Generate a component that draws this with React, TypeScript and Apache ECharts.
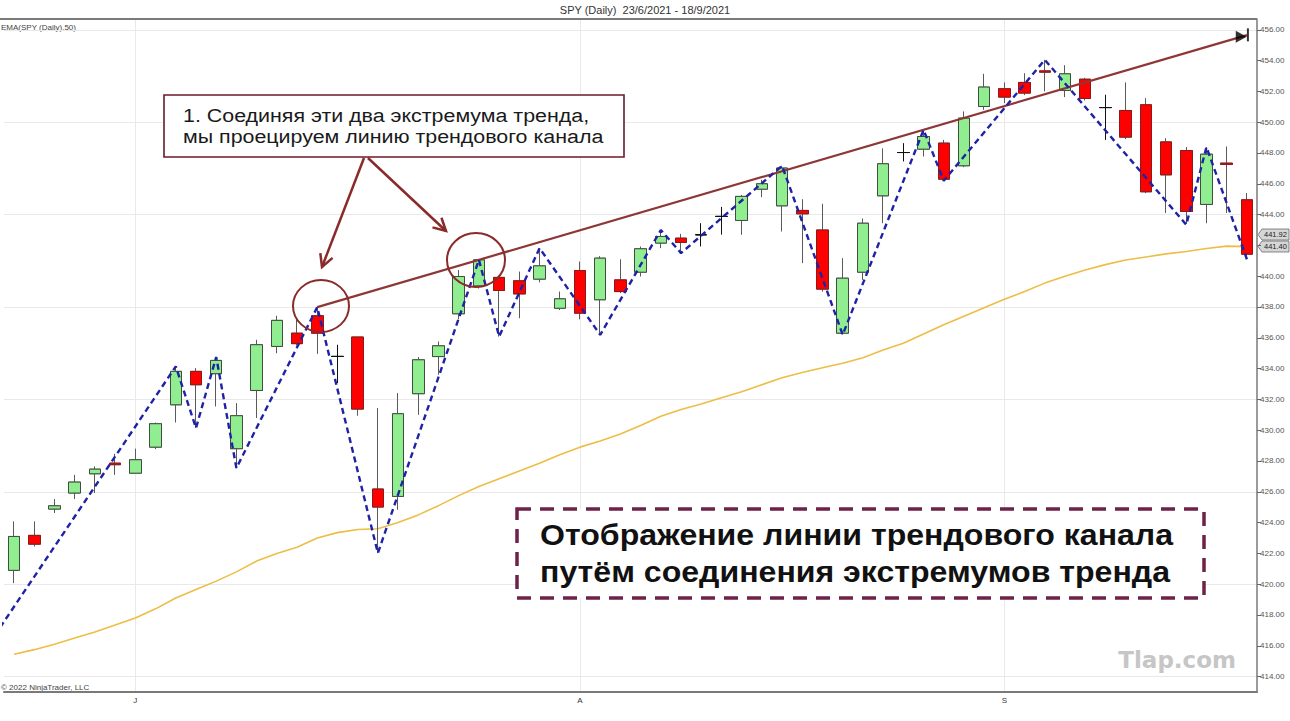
import React, { useEffect, useRef } from "react";
import * as echarts from "echarts";

const FONT = '"Liberation Sans", Arial, sans-serif';

const categories = [
  "23/6", "24/6", "25/6", "28/6", "29/6", "30/6",
  "1/7", "2/7", "5/7", "6/7", "7/7", "8/7", "9/7", "12/7", "13/7", "14/7", "15/7", "16/7",
  "19/7", "20/7", "21/7", "22/7", "23/7", "26/7", "27/7", "28/7", "29/7", "30/7",
  "2/8", "3/8", "4/8", "5/8", "6/8", "9/8", "10/8", "11/8", "12/8", "13/8", "16/8", "17/8",
  "18/8", "19/8", "20/8", "23/8", "24/8", "25/8", "26/8", "27/8", "30/8",
  "1/9", "2/9", "3/9", "6/9", "7/9", "8/9", "9/9", "10/9", "13/9", "14/9", "15/9", "16/9", "17/9",
];

// [open, close, low, high]
const ohlc: number[][] = [
  [420.9, 423.1, 420.07, 424.08],
  [423.17, 422.6, 422.45, 424.08],
  [424.88, 425.09, 424.62, 425.53],
  [425.92, 426.63, 425.53, 427.1],
  [427.17, 427.47, 425.92, 427.65],
  [427.86, 427.76, 427.1, 428.47],
  [427.21, 428.08, 427.21, 428.8],
  [428.9, 430.42, 428.77, 430.5],
  [431.65, 433.82, 430.5, 434.14],
  [433.82, 432.95, 430.14, 434.03],
  [433.67, 434.53, 431.54, 434.75],
  [428.8, 430.94, 427.54, 431.76],
  [432.58, 435.55, 430.79, 435.87],
  [435.44, 437.13, 435.0, 437.43],
  [436.3, 435.62, 435.5, 437.2],
  [437.43, 436.3, 434.96, 437.95],
  [434.79, 434.79, 433.06, 435.55],
  [436.05, 431.37, 430.94, 436.05],
  [426.18, 425.01, 422.02, 431.44],
  [425.7, 431.07, 424.83, 432.41],
  [432.37, 434.57, 431.0, 434.75],
  [434.78, 435.48, 433.6, 435.76],
  [437.56, 439.98, 437.2, 440.4],
  [439.37, 441.06, 439.2, 441.1],
  [439.92, 439.07, 436.08, 439.95],
  [439.7, 438.85, 437.27, 440.3],
  [439.81, 440.67, 439.6, 441.82],
  [437.92, 438.53, 437.8, 439.0],
  [440.37, 437.6, 437.2, 440.95],
  [438.47, 441.17, 436.19, 441.3],
  [439.76, 439.0, 438.9, 441.1],
  [440.26, 441.78, 439.98, 441.93],
  [442.15, 442.58, 441.82, 443.0],
  [442.47, 442.19, 441.5, 442.75],
  [442.69, 442.69, 441.93, 443.44],
  [443.88, 443.88, 442.7, 444.5],
  [443.62, 445.18, 442.69, 445.28],
  [445.65, 446.0, 445.13, 446.26],
  [444.57, 447.02, 442.9, 447.17],
  [444.27, 444.05, 440.85, 445.0],
  [443.0, 439.16, 439.0, 444.7],
  [436.3, 439.87, 436.2, 441.17],
  [440.26, 443.44, 439.76, 443.75],
  [445.22, 447.3, 443.44, 448.3],
  [448.03, 448.03, 447.45, 448.64],
  [448.25, 449.07, 447.77, 449.5],
  [448.64, 446.3, 446.2, 448.85],
  [447.17, 450.26, 447.08, 450.7],
  [451.02, 452.28, 450.8, 453.14],
  [452.17, 451.63, 451.24, 452.58],
  [452.58, 451.89, 451.76, 453.18],
  [453.33, 453.25, 452.0, 454.05],
  [452.06, 453.14, 451.63, 453.7],
  [452.79, 451.54, 451.41, 452.88],
  [450.95, 450.95, 448.85, 451.78],
  [450.76, 449.03, 448.9, 452.58],
  [451.13, 445.48, 445.39, 451.56],
  [448.72, 446.58, 444.1, 448.96],
  [448.16, 444.2, 443.4, 448.38],
  [444.66, 447.92, 443.44, 448.38],
  [447.34, 447.26, 444.1, 448.42],
  [444.96, 441.43, 441.1, 445.4],
];

const ema50 = [
  415.45, 415.75, 416.1, 416.5, 416.9, 417.35, 417.8, 418.4, 419.1, 419.65,
  420.2, 420.8, 421.5, 422.0, 422.4, 423.0, 423.35, 423.55, 423.6, 424.0,
  424.5, 425.1, 425.75, 426.35, 426.85, 427.35, 427.85, 428.4, 428.9, 429.3,
  429.75, 430.3, 430.9, 431.35, 431.7, 432.1, 432.5, 432.95, 433.4, 433.75,
  434.05, 434.35, 434.7, 435.2, 435.65, 436.25, 436.85, 437.4, 437.95, 438.5,
  439.0, 439.55, 440.0, 440.4, 440.75, 441.05, 441.25, 441.45, 441.6, 441.8,
  441.95, 441.92,
];

// swing points of the zigzag [bar index, price]
const zigzag: number[][] = [
  [-0.69, 417.2], [8, 434.14], [9, 430.14], [10, 434.75], [11, 427.54],
  [15, 437.99], [18, 422.02], [23, 441.06], [24, 436.08], [26, 441.82],
  [29, 436.19], [32, 443.0], [33, 441.5], [38, 447.17], [41, 436.2],
  [45, 449.5], [46, 446.2], [51, 454.05], [58, 443.34], [59, 448.38],
  [61, 441.1],
];

const trendLine: number[][] = [[15, 437.99], [61, 455.65]];
const rayEnd: number[][] = [[60.72, 455.55]];
const rayBar: number[][] = [[61.05, 455.67]];

const yTicks = [414, 416, 418, 420, 422, 424, 426, 428, 430, 432, 434, 436, 438, 440, 442, 444, 446, 448, 450, 452, 454, 456];
// 442.00 is hidden behind the last-value boxes in the reference
const yTickLabels = [414, 416, 418, 420, 422, 424, 426, 428, 430, 432, 434, 436, 438, 440, 444, 446, 448, 450, 452, 454, 456];
const hGrid = [414, 420, 426, 432, 438, 444, 450, 456];
const monthMarks: Record<number, string> = { 6: "J", 28: "A", 49: "S" };

const lastEma = "441.92";
const lastClose = "441.40";

const title = "SPY (Daily)  23/6/2021 - 18/9/2021";
const emaLabel = "EMA(SPY (Daily),50)";
const copyright = "© 2022 NinjaTrader, LLC";
const note1 = ["1. Соединяя эти два экстремума тренда,", "мы проецируем линию трендового канала"];
const note2 = ["Отображение линии трендового канала", "путём соединения экстремумов тренда"];
const watermark = "Tlap.com";

function arrow(x1: number, y1: number, x2: number, y2: number, color: string) {
  const dx = x2 - x1, dy = y2 - y1;
  const len = Math.hypot(dx, dy);
  const bx = -dx / len, by = -dy / len;
  const a = (28 * Math.PI) / 180, h = 14;
  const r1 = [bx * Math.cos(a) - by * Math.sin(a), bx * Math.sin(a) + by * Math.cos(a)];
  const r2 = [bx * Math.cos(a) + by * Math.sin(a), -bx * Math.sin(a) + by * Math.cos(a)];
  return [
    { type: "line", shape: { x1, y1, x2, y2 }, style: { stroke: color, lineWidth: 2.5 }, z: 20 },
    {
      type: "polyline",
      shape: { points: [[x2 + r1[0] * h, y2 + r1[1] * h], [x2, y2], [x2 + r2[0] * h, y2 + r2[1] * h]] },
      style: { stroke: color, lineWidth: 2.5, fill: "none" },
      z: 20,
    },
  ];
}

function valueBox(y: number, text: string) {
  return {
    type: "group",
    z: 30,
    children: [
      {
        type: "polygon",
        shape: { points: [[1258, y], [1262, y - 5.5], [1289, y - 5.5], [1289, y + 5.5], [1262, y + 5.5]] },
        style: { fill: "#d6d6d6", stroke: "#6a6a6a", lineWidth: 0.8 },
      },
      {
        type: "text",
        style: { text, x: 1264, y, verticalAlign: "middle", font: `7.5px ${FONT}`, fill: "#222" },
      },
    ],
  };
}

function scaledText(text: string, x: number, y: number, font: string, sx: number, fill: string) {
  return {
    type: "text",
    x,
    y,
    scaleX: sx,
    z: 22,
    style: { text, x: 0, y: 0, verticalAlign: "middle", font, fill },
  };
}

export default function App() {
  const ref = useRef<HTMLDivElement>(null);

  useEffect(() => {
    if (!ref.current) return;
    const chart = echarts.init(ref.current, null, { renderer: "svg" });
    const bodies = ohlc.map(([o, c]) => [o, c, Math.min(o, c), Math.max(o, c)]);

    const option: any = {
      animation: false,
      backgroundColor: "#ffffff",
      grid: { left: 4, right: 33, top: 19, bottom: 29, containLabel: false },
      xAxis: [
        {
          type: "category",
          data: categories,
          boundaryGap: true,
          axisLine: { onZero: false, lineStyle: { color: "#7a7a7a", width: 2 } },
          axisTick: {
            interval: (i: number) => i in monthMarks,
            alignWithLabel: true,
            length: 5,
            lineStyle: { color: "#555" },
          },
          axisLabel: {
            interval: (i: number) => i in monthMarks,
            formatter: (_v: string, i: number) => monthMarks[i] ?? "",
            fontSize: 8,
            color: "#333",
            margin: 4,
            fontFamily: FONT,
          },
          splitLine: { show: false },
        },
        { type: "value", min: -0.5, max: categories.length - 0.5, show: false, axisLine: { onZero: false } },
      ],
      yAxis: {
        type: "value",
        position: "right",
        min: 413,
        max: 456.7,
        axisLine: { show: true, onZero: false, lineStyle: { color: "#7a7a7a", width: 1.5 } },
        axisTick: { show: true, customValues: yTicks, length: 4, lineStyle: { color: "#666" } },
        axisLabel: {
          customValues: yTickLabels,
          formatter: (v: number) => v.toFixed(2),
          fontSize: 8,
          color: "#555",
          margin: 3,
          fontFamily: FONT,
        },
        splitLine: { show: false },
      },
      series: [
        {
          name: "grid",
          type: "line",
          data: [],
          z: 0,
          silent: true,
          markLine: {
            silent: true,
            symbol: ["none", "none"],
            z: 0,
            label: { show: false },
            lineStyle: { color: "#e9e9e9", width: 1, type: "solid" },
            data: [
              ...hGrid.map((v) => ({ yAxis: v })),
              ...Object.keys(monthMarks).map((k) => ({ xAxis: categories[Number(k)] })),
            ],
          },
        },
        {
          name: "EMA(50)",
          type: "line",
          data: ema50,
          symbol: "none",
          z: 2,
          lineStyle: { color: "#edbd45", width: 1.6 },
        },
        {
          name: "wicks",
          type: "candlestick",
          data: ohlc,
          barWidth: 12,
          z: 3,
          itemStyle: {
            color: "#90ee90",
            color0: "#ff0000",
            borderColor: "#5a5a5a",
            borderColor0: "#5a5a5a",
            borderColorDoji: "#111111",
            borderWidth: 1,
          },
        },
        {
          name: "SPY",
          type: "candlestick",
          data: bodies,
          barWidth: 12,
          z: 4,
          itemStyle: {
            color: "#90ee90",
            color0: "#ff0000",
            borderColor: "#3f4f3f",
            borderColor0: "#8b1a1a",
            borderColorDoji: "#111111",
            borderWidth: 1,
          },
        },
        {
          name: "trend channel",
          type: "line",
          xAxisIndex: 1,
          data: trendLine,
          symbol: "none",
          z: 6,
          lineStyle: { color: "#8e3636", width: 2.2 },
        },
        {
          name: "zigzag",
          type: "line",
          xAxisIndex: 1,
          data: zigzag,
          symbol: "none",
          clip: false,
          z: 7,
          lineStyle: { color: "#1e22a6", width: 2.4, type: [6, 4] },
        },
        {
          name: "ray end",
          type: "scatter",
          xAxisIndex: 1,
          data: rayEnd,
          symbol: "triangle",
          symbolRotate: -90,
          symbolSize: [12, 11],
          z: 8,
          itemStyle: { color: "#000" },
        },
        {
          name: "ray bar",
          type: "scatter",
          xAxisIndex: 1,
          data: rayBar,
          symbol: "rect",
          symbolSize: [2, 13],
          z: 8,
          itemStyle: { color: "#000" },
        },
      ],
      graphic: [
        { type: "line", shape: { x1: 0, y1: 19, x2: 1257, y2: 19 }, style: { stroke: "#7a7a7a", lineWidth: 2 }, z: 10 },
        {
          type: "text",
          style: { text: title, x: 645, y: 10, align: "center", verticalAlign: "middle", font: `11px ${FONT}`, fill: "#333" },
        },
        {
          type: "text",
          style: { text: emaLabel, x: 1, y: 27, verticalAlign: "middle", font: `8px ${FONT}`, fill: "#444" },
        },
        {
          type: "text",
          style: { text: copyright, x: 1, y: 687, verticalAlign: "middle", font: `8px ${FONT}`, fill: "#444" },
        },
        // annotation circles
        { type: "ellipse", shape: { cx: 321, cy: 306, rx: 28, ry: 26 }, style: { fill: "none", stroke: "#8b2a2a", lineWidth: 2 }, z: 20 },
        { type: "ellipse", shape: { cx: 476, cy: 260, rx: 29, ry: 27 }, style: { fill: "none", stroke: "#8b2a2a", lineWidth: 2 }, z: 20 },
        ...arrow(364, 158, 322, 267, "#8b2a2a"),
        ...arrow(368, 158, 446, 231, "#8b2a2a"),
        // top note box
        {
          type: "rect",
          shape: { x: 164, y: 95, width: 460, height: 62 },
          style: { fill: "#ffffff", stroke: "#6b1a2a", lineWidth: 1.6 },
          z: 21,
        },
        scaledText(note1[0], 183, 116, `18px ${FONT}`, 1.19, "#1a1a1a"),
        scaledText(note1[1], 183, 137, `18px ${FONT}`, 1.19, "#1a1a1a"),
        // bottom dashed box
        {
          type: "rect",
          shape: { x: 517, y: 509, width: 687, height: 89 },
          style: { fill: "#ffffff", stroke: "#6e2248", lineWidth: 3.5, lineDash: [14, 9] },
          z: 21,
        },
        scaledText(note2[0], 540, 535, `bold 30px ${FONT}`, 1.07, "#111"),
        scaledText(note2[1], 540, 572, `bold 30px ${FONT}`, 1.07, "#111"),
        {
          type: "text",
          style: { text: watermark, x: 1236, y: 660, align: "right", verticalAlign: "middle", font: `bold 23px "DejaVu Sans", sans-serif`, fill: "#c6c6c6" },
          z: 22,
        },
        valueBox(234.5, lastEma),
        valueBox(246.5, lastClose),
      ],
    };

    chart.setOption(option);
    return () => chart.dispose();
  }, []);

  return (
    <div
      ref={ref}
      style={{ position: "fixed", left: 0, top: 0, width: 1290, height: 721, background: "#fff" }}
    />
  );
}
